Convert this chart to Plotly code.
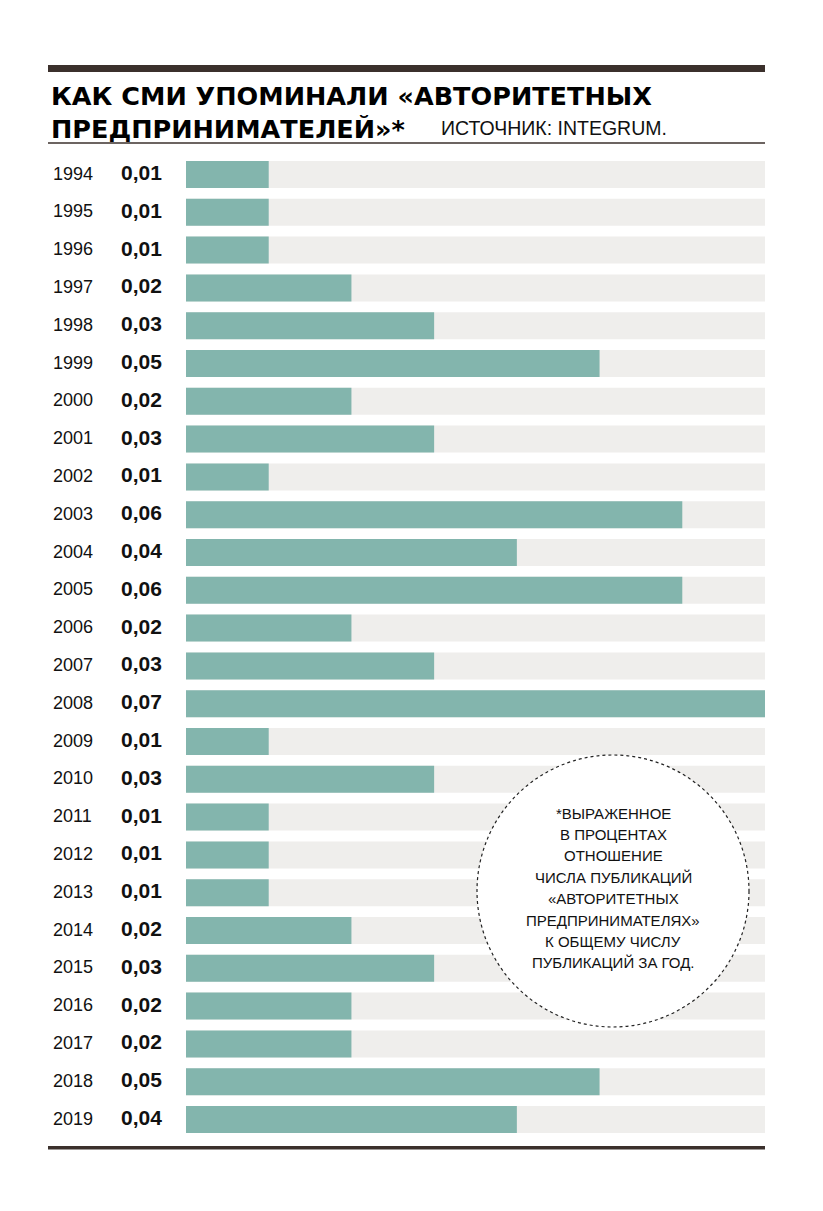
import plotly.graph_objects as go

years = ["1994", "1995", "1996", "1997", "1998", "1999", "2000", "2001", "2002",
         "2003", "2004", "2005", "2006", "2007", "2008", "2009", "2010", "2011",
         "2012", "2013", "2014", "2015", "2016", "2017", "2018", "2019"]
values = [0.01, 0.01, 0.01, 0.02, 0.03, 0.05, 0.02, 0.03, 0.01,
          0.06, 0.04, 0.06, 0.02, 0.03, 0.07, 0.01, 0.03, 0.01,
          0.01, 0.01, 0.02, 0.03, 0.02, 0.02, 0.05, 0.04]
max_value = 0.07

title_line1 = "КАК СМИ УПОМИНАЛИ «АВТОРИТЕТНЫХ"
title_line2 = "ПРЕДПРИНИМАТЕЛЕЙ»*"
source_text = "ИСТОЧНИК: INTEGRUM."
note_lines = ["*ВЫРАЖЕННОЕ", "В ПРОЦЕНТАХ", "ОТНОШЕНИЕ", "ЧИСЛА ПУБЛИКАЦИЙ",
              "«АВТОРИТЕТНЫХ", "ПРЕДПРИНИМАТЕЛЯХ»", "К ОБЩЕМУ ЧИСЛУ",
              "ПУБЛИКАЦИЙ ЗА ГОД."]

OFF = 8  # default page body margin
W, H = 823 - OFF, 1211 - OFF
BAR = "#83b5ad"
BG = "#efeeec"
DARK = "#3b302c"
FONT = "Liberation Sans, Arial, sans-serif"
TITLE_FONT = "DejaVu Sans, Arial, sans-serif"


def px(x):
    return (x - OFF) / W


def py(y):
    return 1 - (y - OFF) / H


row0, step = 174.5, 37.8
n = len(years)
y_top = -(row0 - OFF) / step
y_bot = (H - (row0 - OFF)) / step

fig = go.Figure()
fig.add_trace(go.Bar(y=years, x=[max_value] * n, orientation="h",
                     marker=dict(color=BG, line=dict(width=0)),
                     hoverinfo="skip", showlegend=False))
fig.add_trace(go.Bar(y=years, x=values, orientation="h",
                     marker=dict(color=BAR, line=dict(width=0)),
                     showlegend=False))

annotations = []
for i, (yr, v) in enumerate(zip(years, values)):
    annotations.append(dict(x=px(51), xref="paper", y=i, yref="y", text=yr,
                            showarrow=False, xanchor="left", yanchor="middle", yshift=1,
                            font=dict(family=FONT, size=18, color="#111")))
    annotations.append(dict(x=px(141), xref="paper", y=i, yref="y",
                            text=f"{v:.2f}".replace(".", ","),
                            showarrow=False, xanchor="center", yanchor="middle", yshift=2,
                            font=dict(family=FONT, size=21, color="#111", weight=700)))

annotations.append(dict(x=px(49), xref="paper", y=py(96), yref="paper", text=title_line1,
                        showarrow=False, xanchor="left", yanchor="middle",
                        font=dict(family=TITLE_FONT, size=25.5, color="#000", weight=700)))
annotations.append(dict(x=px(49), xref="paper", y=py(129), yref="paper", text=title_line2,
                        showarrow=False, xanchor="left", yanchor="middle",
                        font=dict(family=TITLE_FONT, size=25.5, color="#000", weight=700)))
annotations.append(dict(x=px(439), xref="paper", y=py(128), yref="paper", text=source_text,
                        showarrow=False, xanchor="left", yanchor="middle",
                        font=dict(family=FONT, size=19.5, color="#111")))

for i, line in enumerate(note_lines):
    annotations.append(dict(x=px(613), xref="paper", y=py(813 + 21.4 * i), yref="paper",
                            text=line, showarrow=False, xanchor="center", yanchor="middle",
                            font=dict(family=FONT, size=15, color="#111")))

shapes = [
    dict(type="rect", xref="paper", yref="paper", x0=px(48), x1=px(765),
         y0=py(72), y1=py(65), fillcolor=DARK, line=dict(width=0)),
    dict(type="line", xref="paper", yref="paper", x0=px(48), x1=px(765),
         y0=py(143), y1=py(143), line=dict(color=DARK, width=1.5)),
    dict(type="rect", xref="paper", yref="paper", x0=px(48), x1=px(765),
         y0=py(1149.5), y1=py(1146), fillcolor=DARK, line=dict(width=0)),
    dict(type="circle", xref="paper", yref="paper", x0=px(477), x1=px(749),
         y0=py(1027), y1=py(755), fillcolor="white",
         line=dict(color="#222", width=1.2, dash="dot"), layer="above"),
]

fig.update_layout(
    width=W, height=H, autosize=False,
    margin=dict(l=0, r=0, t=0, b=0),
    paper_bgcolor="white", plot_bgcolor="white",
    barmode="overlay", bargap=0.286,
    xaxis=dict(domain=[px(186), px(765)], range=[0, max_value], visible=False,
               fixedrange=True),
    yaxis=dict(domain=[0, 1], type="category", categoryarray=years,
               range=[y_bot, y_top], visible=False, fixedrange=True),
    annotations=annotations,
    shapes=shapes,
    showlegend=False,
)

fig.write_html("out.html")
